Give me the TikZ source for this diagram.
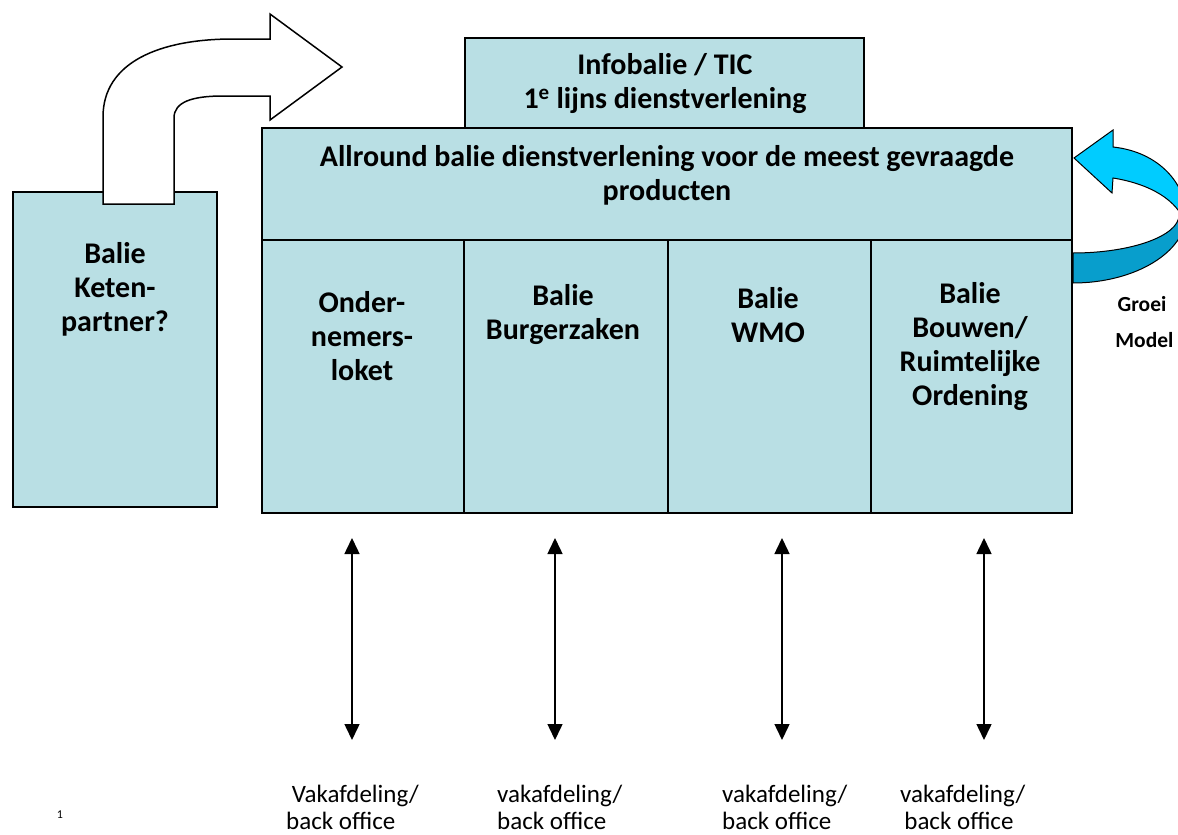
\documentclass[tikz,border=0pt]{standalone}
\usepackage{fontspec}
\setmainfont{Carlito}
\usetikzlibrary{arrows.meta}
\definecolor{boxfill}{RGB}{185,223,228}
\definecolor{lightcyan}{RGB}{0,204,255}
\definecolor{darkcyan}{RGB}{8,158,204}
\tikzset{
  boxline/.style={draw=black, line width=1.5pt, fill=boxfill},
  bigtext/.style={font=\fontsize{30}{34}\selectfont\bfseries, align=center, inner sep=0pt},
  smalltext/.style={font=\fontsize{25}{27}\selectfont, align=left, inner sep=0pt, anchor=north west},
  dblarrow/.style={line width=1.5pt, {Triangle[width=15pt,length=16pt]}-{Triangle[width=15pt,length=16pt]}},
}
\begin{document}
\begin{tikzpicture}[x=1pt,y=-1pt]
\useasboundingbox (0,0) rectangle (1178,835);
% left box
\draw[boxline] (13,192) rectangle (217,507);
\node[bigtext] (keten) at (115,289) {Balie\\Keten-\\partner?};
% big white curved arrow
\draw[line width=1.5pt, fill=white, line join=miter]
  (103,204) -- (103,117) .. controls (103,62) and (160,39) .. (233,39)
  -- (270,39) -- (270,14) -- (342,67) -- (270,120) -- (270,96) -- (223,96)
  .. controls (192,96) and (174,102) .. (174,118) -- (174,204) -- cycle;
% infobalie
\draw[boxline] (465,38) rectangle (864,128);
\node[bigtext] (info) at (665,84) {Infobalie / TIC\\1\textsuperscript{e} lijns dienstverlening};
% main box
\draw[boxline] (262,128) rectangle (1072,513);
\draw[line width=1.5pt] (262,240) -- (1072,240);
\draw[line width=1.5pt] (464,240) -- (464,513);
\draw[line width=1.5pt] (668,240) -- (668,513);
\draw[line width=1.5pt] (871,240) -- (871,513);
\node[bigtext] (allround) at (667,175) {Allround balie dienstverlening voor de meest gevraagde\\producten};
\node[bigtext] (c1) at (362,336) {Onder-\\nemers-\\loket};
\node[bigtext] (c2) at (563,315) {Balie\\Burgerzaken};
\node[bigtext] (c3) at (768,315) {Balie\\WMO};
\node[bigtext] (c4) at (970,347) {Balie\\Bouwen/\\Ruimtelijke\\Ordening};
% growth arrow
\draw[line width=1pt, fill=lightcyan, line join=miter]
  (1074,158) -- (1113,130) -- (1113,147)
  .. controls (1160,152) and (1186,185) .. (1186,215)
  -- (1186,225)
  .. controls (1178,200) and (1150,184) .. (1113,178)
  -- (1112,193) -- cycle;
\draw[line width=1pt, fill=darkcyan]
  (1073,283) .. controls (1135,283) and (1186,252) .. (1186,215)
  -- (1179,215) .. controls (1179,236) and (1131,253) .. (1073,253) -- cycle;
\node[font=\fontsize{21.5}{36}\selectfont\bfseries, align=center, inner sep=0pt] (groei) at (1142,322) {Groei\\\ Model};
% double arrows
\coordinate (a1t) at (352,538); \coordinate (a1b) at (352,740);
\coordinate (a2t) at (555,538); \coordinate (a2b) at (555,740);
\coordinate (a3t) at (782,538); \coordinate (a3b) at (782,740);
\coordinate (a4t) at (984,538); \coordinate (a4b) at (984,740);
\draw[dblarrow] (a1t) -- (a1b);
\draw[dblarrow] (a2t) -- (a2b);
\draw[dblarrow] (a3t) -- (a3b);
\draw[dblarrow] (a4t) -- (a4b);
% bottom labels
\node[smalltext] (v1) at (286,785) {\ Vakafdeling/\\back office};
\node[smalltext] (v2) at (497,785) {vakafdeling/\\back office};
\node[smalltext] (v3) at (722,785) {vakafdeling/\\back office};
\node[smalltext] (v4) at (900,785) {vakafdeling/\\\,back office};
\node[font=\fontsize{12}{14}\selectfont, inner sep=0pt] (pnum) at (60,815) {1};
\end{tikzpicture}
\end{document}
